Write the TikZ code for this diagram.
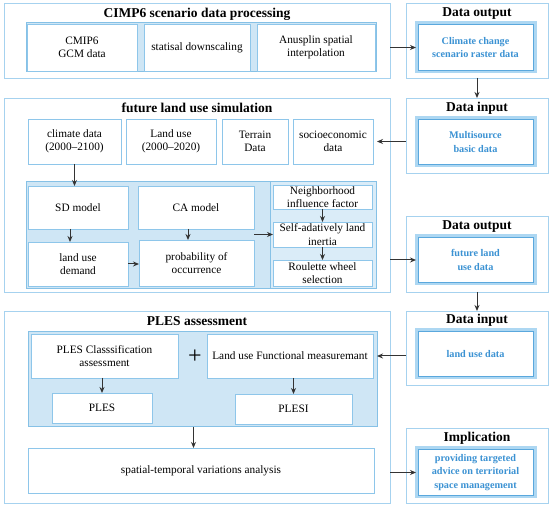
\documentclass[tikz,border=0pt]{standalone}
\usepackage{fontspec}
\setmainfont{Liberation Serif}
\usetikzlibrary{arrows.meta,calc}
\definecolor{obd}{HTML}{A6D2EF}
\definecolor{bandfill}{HTML}{CFE6F5}
\definecolor{bandfilltwo}{HTML}{DAECF8}
\definecolor{bandline}{HTML}{86C1E6}
\definecolor{boxline}{HTML}{8EC6EA}
\definecolor{dlight}{HTML}{ADD7F2}
\definecolor{ddark}{HTML}{5AA8DD}
\definecolor{dtext}{HTML}{3B92D3}
\definecolor{arr}{HTML}{333333}
\tikzset{
 outerbox/.style={draw=obd, line width=0.9pt, fill=white},
 band/.style={draw=bandline, line width=1pt, fill=bandfill},
 wbox/.style={draw=boxline, line width=0.9pt, fill=white, align=center, font=\fontsize{11.3}{13.5}\selectfont},
 dbox/.style={draw=dlight, line width=3pt, fill=white, align=center, text=dtext, font=\bfseries\fontsize{10.2}{13.5}\selectfont},
 ttl/.style={font=\bfseries\fontsize{13.5}{15}\selectfont, inner sep=0pt},
 arw/.style={-{Stealth[length=6pt,width=5pt]}, draw=arr, line width=1pt},
}
\newcommand\bx[7]{\node[#1, inner sep=0pt, outer sep=0pt, minimum width={(#5-#3)*1pt}, minimum height={(#6-#4)*1pt}] (#2) at ({(#3+#5)/2},{(#4+#6)/2}) {#7};}
\begin{document}
\begin{tikzpicture}[x=1pt,y=-1pt]
\fill[white] (0,0) rectangle (550,510);
\useasboundingbox (0,0) rectangle (550,510);
% CIMP6 processing
\bx{outerbox}{proc}{4}{3}{390}{78}{}
\node[ttl] (proct) at (197,14) {CIMP6 scenario data processing};
\bx{band}{procband}{26}{23}{376}{72}{}
\bx{wbox}{gcm}{27}{24}{137}{71}{CMIP6\\GCM data}
\bx{wbox}{down}{144}{24}{250}{71}{statisal downscaling}
\bx{wbox}{anu}{257}{24}{375}{71}{Anusplin spatial\\interpolation}
% Data output 1
\bx{outerbox}{out1}{406}{3}{548}{78}{}
\node[ttl] (out1t) at (477,14) {Data output};
\bx{dbox}{out1in}{416}{23}{535}{72}{Climate change\\scenario raster data}
% Data input 2
\bx{outerbox}{in2}{406}{98}{548}{173}{}
\node[ttl] (in2t) at (477,108) {Data input};
\bx{dbox}{in2in}{416}{118}{535}{166}{Multisource\\basic data}
% simulation
\bx{outerbox}{sim}{4}{98}{390}{292}{}
\node[ttl] (simt) at (197,108) {future land use simulation};
\bx{wbox}{clim}{28}{119}{121}{164}{climate data\\(2000--2100)}
\bx{wbox}{lu}{126}{119}{216}{164}{Land use\\(2000--2020)}
\bx{wbox}{terr}{222}{119}{288}{164}{Terrain\\Data}
\bx{wbox}{socio}{293}{119}{373}{164}{socioeconomic\\data}
\bx{band}{simband}{26}{182}{376}{289}{}
\bx{band,fill=bandfilltwo}{simcol}{270}{182}{376}{289}{}
\bx{wbox}{sd}{28}{186}{128}{229}{SD model}
\bx{wbox}{ca}{138}{186}{254}{229}{CA model}
\bx{wbox}{dem}{28}{242}{128}{286}{land use\\demand}
\bx{wbox}{prob}{139}{240}{254}{286}{probability of\\occurrence}
\bx{wbox}{nei}{273}{185}{372}{209}{Neighborhood\\influence factor}
\bx{wbox}{self}{273}{222}{372}{247}{Self-adatively land\\inertia}
\bx{wbox}{roul}{273}{260}{372}{286}{Roulette wheel\\selection}
% Data output 2
\bx{outerbox}{out2}{406}{216}{548}{292}{}
\node[ttl] (out2t) at (477,227) {Data output};
\bx{dbox}{out2in}{416}{236}{535}{284}{future land\\use data}
% PLES
\bx{outerbox}{ples}{4}{311}{390}{503}{}
\node[ttl] (plest) at (197,321) {PLES assessment};
\bx{band}{pband}{28}{332}{377}{427}{}
\bx{wbox}{cls}{31}{334}{178}{378}{PLES Classsification\\assessment}
\node[font=\fontsize{24}{24}\selectfont, inner sep=0pt] (plus) at (195,357) {+};
\bx{wbox}{lfm}{207}{334}{373}{378}{Land use Functional measuremant}
\bx{wbox}{plesb}{52}{393}{152}{423}{PLES}
\bx{wbox}{plesi}{235}{394}{352}{424}{PLESI}
\bx{wbox}{spat}{28}{448}{374}{493}{spatial-temporal variations analysis}
% Data input 3
\bx{outerbox}{in3}{406}{311}{548}{385}{}
\node[ttl] (in3t) at (477,320) {Data input};
\bx{dbox}{in3in}{416}{330}{535}{378}{land use data}
% Implication
\bx{outerbox}{imp}{406}{428}{548}{503}{}
\node[ttl] (impt) at (477,438) {Implication};
\bx{dbox}{impin}{416}{448}{535}{497}{providing targeted\\advice on territorial\\space management}
% inner dark lines of data boxes
\foreach \n in {out1in,in2in,out2in,in3in,impin}
  \draw[ddark, line width=0.8pt] ([shift={(1.9,1.9)}]\n.north west) rectangle ([shift={(-1.9,-1.9)}]\n.south east);
% arrows
\draw[arw] (out1in.west -| proc.east) -- (out1in.west);
\draw[arw] (out1.south) -- (in2.north);
\draw[arw] (socio.east -| in2.west) -- ([xshift=4pt]socio.east);
\draw[arw] (clim.south) -- (clim.south |- sd.north);
\draw[arw] ([xshift=-8pt]sd.south) -- ([xshift=-8pt]dem.north);
\draw[arw] ([xshift=-8pt]ca.south) -- ([xshift=-8pt]ca.south |- prob.north);
\draw[arw] (dem.east) -- (dem.east -| prob.west);
\draw[arw] (self.west -| prob.east) -- (self.west);
\draw[arw] (nei.south) -- (self.north);
\draw[arw] (self.south) -- (roul.north);
\draw[arw] (out2in.west -| sim.east) -- (out2in.west);
\draw[arw] (out2.south) -- (in3.north);
\draw[arw] (lfm.east -| in3.west) -- ([xshift=4pt]lfm.east);
\draw[arw] (cls.south -| plesb.north) -- (plesb.north);
\draw[arw] (plesi.north |- lfm.south) -- (plesi.north);
\draw[arw] ([xshift=-9pt]pband.south) -- ([xshift=-9pt]pband.south |- spat.north);
\draw[arw] (impin.west -| ples.east) -- (impin.west);
\end{tikzpicture}
\end{document}
